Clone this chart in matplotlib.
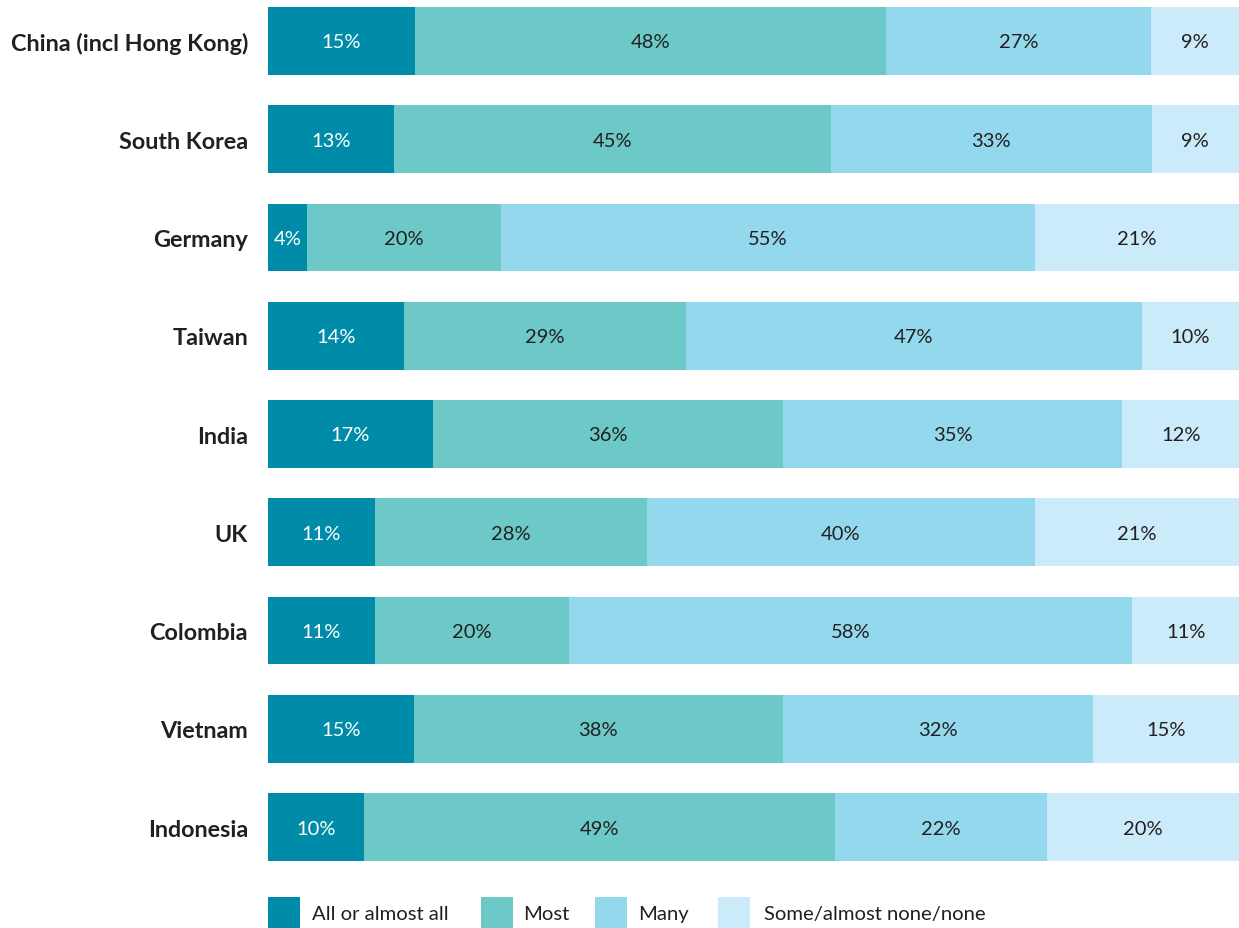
import matplotlib
matplotlib.use("Agg")
import matplotlib.pyplot as plt
from matplotlib.patches import Rectangle

countries = ["China (incl Hong Kong)", "South Korea", "Germany", "Taiwan", "India",
             "UK", "Colombia", "Vietnam", "Indonesia"]
series_names = ["All or almost all", "Most", "Many", "Some/almost none/none"]
all_or_almost_all = [15, 13, 4, 14, 17, 11, 11, 15, 10]
most = [48, 45, 20, 29, 36, 28, 20, 38, 49]
many = [27, 33, 55, 47, 35, 40, 58, 32, 22]
some_none = [9, 9, 21, 10, 12, 21, 11, 15, 20]

colors = ["#008CA8", "#6CC9C8", "#94D8EE", "#CBEBFA"]
text_colors = ["white", "#231F20", "#231F20", "#231F20"]

plt.rcParams['font.family'] = ['Lato', 'DejaVu Sans']

W, H = 1239, 929
fig = plt.figure(figsize=(W / 100, H / 100), dpi=100)
ax_left, ax_right, ax_top, ax_bottom = 268, 1239, 8, 862
ax = fig.add_axes([ax_left / W, 1 - ax_bottom / H, (ax_right - ax_left) / W, (ax_bottom - ax_top) / H])

series = [all_or_almost_all, most, many, some_none]
bar_h = 68 / 98.375
for i, c in enumerate(countries):
    vals = [s[i] for s in series]
    tot = sum(vals)
    left = 0.0
    for j, v in enumerate(vals):
        w = v / tot * 100
        ax.barh(i, w, left=left, height=bar_h, color=colors[j], linewidth=0)
        ax.text(left + w / 2, i + 0.01, f"{v}%", ha="center", va="center",
                color=text_colors[j], fontsize=14.5)
        left += w

ax.set_xlim(0, 100)
ax.set_ylim(len(countries) - 1 + bar_h / 2, -bar_h / 2)
ax.set_yticks(range(len(countries)))
ax.set_yticklabels(countries, fontsize=16.8, fontweight="bold", color="#231F20")
ax.tick_params(axis="y", length=0, pad=14.4)
ax.set_xticks([])
for s in ax.spines.values():
    s.set_visible(False)

# legend
sq_x = [268, 481, 595, 718]
tx_x = [312, 523, 638, 764]
for j, name in enumerate(series_names):
    fig.patches.append(Rectangle((sq_x[j] / W, 0), 32 / W, 31 / H, transform=fig.transFigure,
                                 facecolor=colors[j], edgecolor="none"))
    fig.text(tx_x[j] / W, 1 - 915 / H, name, ha="left", va="center", fontsize=14.6, color="#231F20")

fig.savefig("out.png", dpi=100)
